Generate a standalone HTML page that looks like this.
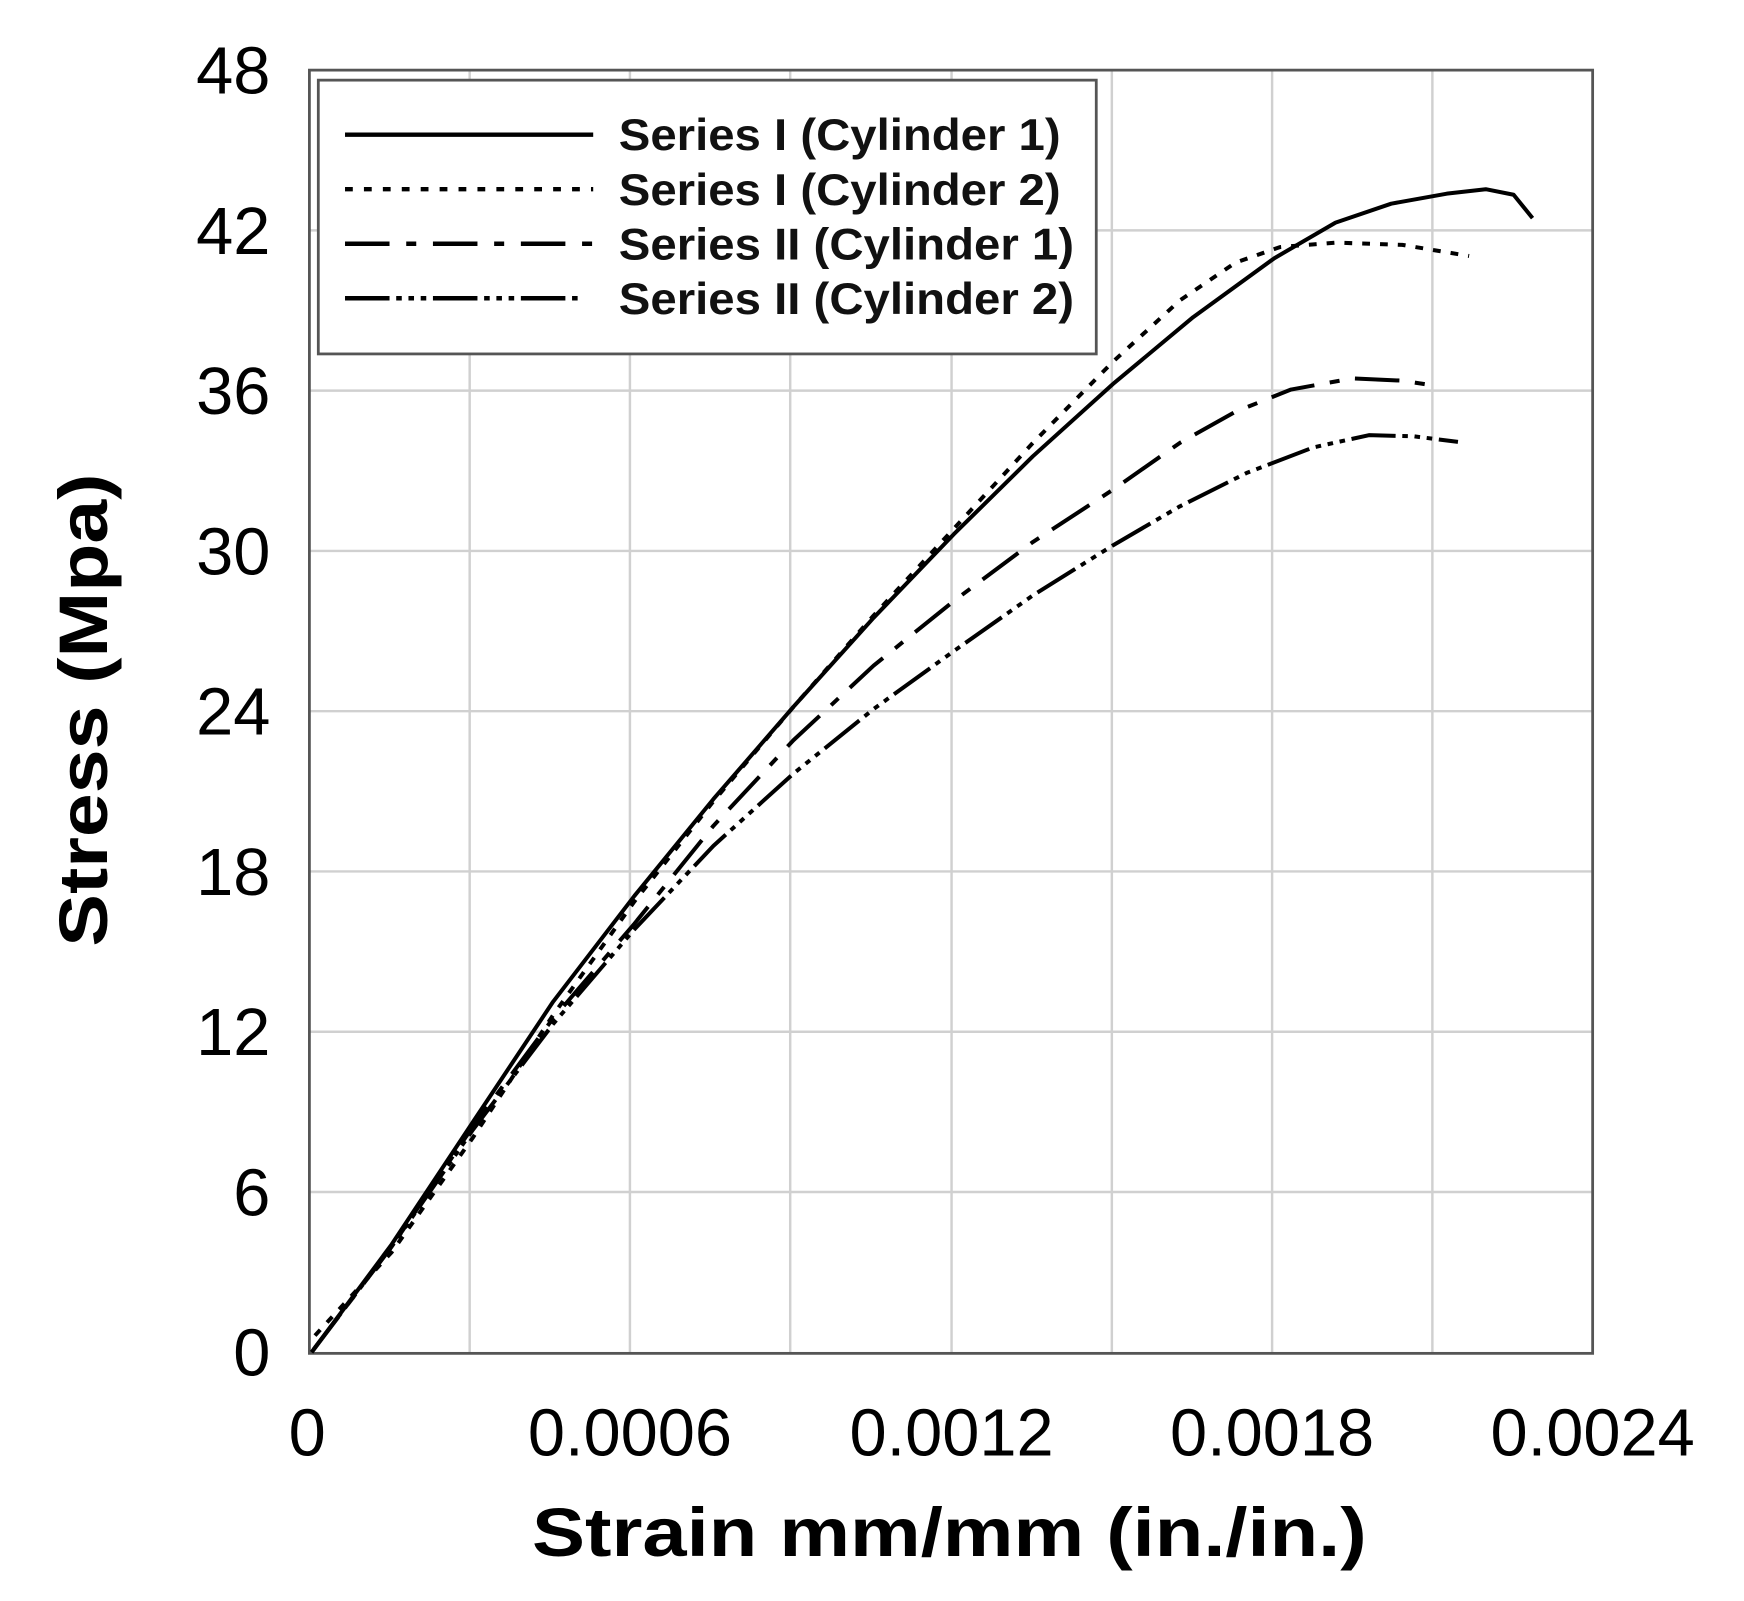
<!DOCTYPE html>
<html><head><meta charset="utf-8"><style>html,body{margin:0;padding:0;background:#fff}svg{display:block}</style></head>
<body>
<svg width="1744" height="1601" viewBox="0 0 1567 1438.5" xmlns="http://www.w3.org/2000/svg">
<rect width="1567" height="1438.5" fill="#fff"/>
<g stroke="#d0d0d0" stroke-width="2.2">
<line x1="422" y1="63" x2="422" y2="1216"/><line x1="566" y1="63" x2="566" y2="1216"/><line x1="710" y1="63" x2="710" y2="1216"/><line x1="855" y1="63" x2="855" y2="1216"/><line x1="999" y1="63" x2="999" y2="1216"/><line x1="1143" y1="63" x2="1143" y2="1216"/><line x1="1287" y1="63" x2="1287" y2="1216"/>
<line x1="278" y1="207" x2="1431" y2="207"/><line x1="278" y1="351" x2="1431" y2="351"/><line x1="278" y1="495" x2="1431" y2="495"/><line x1="278" y1="639" x2="1431" y2="639"/><line x1="278" y1="783" x2="1431" y2="783"/><line x1="278" y1="927" x2="1431" y2="927"/><line x1="278" y1="1071" x2="1431" y2="1071"/>
</g>
<rect x="278" y="63" width="1153" height="1153" fill="none" stroke="#555" stroke-width="2.5"/>
<g fill="none" stroke="#000" stroke-width="3.6" stroke-linejoin="round" stroke-linecap="butt">
<path d="M280,1215 L352,1118 L425,1008 L497,900 L570,805 L641,718 L713,635 L785,555 L857,480 L928,410 L1000,345 L1072,285 L1145,232 L1200,200 L1250,183 L1300,174 L1335,170 L1360,175 L1377,196"/>
<path stroke-dasharray="7,9" d="M283,1200 L352,1125 L425,1022 L497,912 L570,810 L641,720 L713,635 L785,553 L857,475 L928,398 L1000,325 L1060,270 L1110,236 L1150,222 L1200,218 L1260,220 L1320,230"/>
<path stroke-dasharray="40,14,9,14" d="M280,1215 L352,1120 L425,1012 L497,915 L570,830 L641,742 L713,665 L785,598 L857,540 L928,487 L1000,440 L1060,398 L1110,370 L1160,350 L1215,340 L1260,342 L1292,347"/>
<path stroke-dasharray="40,6,5,6,5,6,5,6" d="M282,1212 L352,1120 L425,1015 L497,920 L570,835 L641,760 L713,695 L785,637 L857,585 L928,535 L1000,490 L1060,455 L1120,425 L1180,402 L1230,391 L1270,392 L1310,397"/>
</g>
<rect x="286" y="72" width="699" height="246" fill="#fff" stroke="#555" stroke-width="2.5"/>
<g stroke="#000" stroke-width="4">
<line x1="310" y1="121" x2="533" y2="121"/>
<line x1="310" y1="170" x2="533" y2="170" stroke-dasharray="7,10"/>
<line x1="310" y1="219" x2="533" y2="219" stroke-dasharray="40,15,9,15"/>
<line x1="310" y1="268" x2="522" y2="268" stroke-dasharray="40,6,5,6,5,6,5,6"/>
</g>
<g font-family="Liberation Sans, sans-serif" font-weight="bold" font-size="40" fill="#111">
<text x="556" y="135" textLength="397" lengthAdjust="spacingAndGlyphs">Series I (Cylinder 1)</text>
<text x="556" y="184" textLength="397" lengthAdjust="spacingAndGlyphs">Series I (Cylinder 2)</text>
<text x="556" y="233" textLength="409" lengthAdjust="spacingAndGlyphs">Series II (Cylinder 1)</text>
<text x="556" y="282" textLength="409" lengthAdjust="spacingAndGlyphs">Series II (Cylinder 2)</text>
</g>
<g font-family="Liberation Sans, sans-serif" font-size="60" fill="#000" text-anchor="end">
<text x="243" y="84">48</text><text x="243" y="228">42</text><text x="243" y="372">36</text><text x="243" y="516">30</text><text x="243" y="660">24</text><text x="243" y="804">18</text><text x="243" y="948">12</text><text x="243" y="1092">6</text><text x="243" y="1236">0</text>
</g>
<g font-family="Liberation Sans, sans-serif" font-size="60" fill="#000" text-anchor="middle">
<text x="276" y="1308">0</text><text x="566" y="1308">0.0006</text><text x="855" y="1308">0.0012</text><text x="1143" y="1308">0.0018</text><text x="1431" y="1308">0.0024</text>
</g>
<text x="853" y="1398" font-family="Liberation Sans, sans-serif" font-weight="bold" font-size="62" text-anchor="middle" textLength="750" lengthAdjust="spacingAndGlyphs">Strain mm/mm (in./in.)</text>
<text transform="translate(96,638) rotate(-90)" font-family="Liberation Sans, sans-serif" font-weight="bold" font-size="62" text-anchor="middle" textLength="425" lengthAdjust="spacingAndGlyphs">Stress (Mpa)</text>
</svg>
</body></html>
